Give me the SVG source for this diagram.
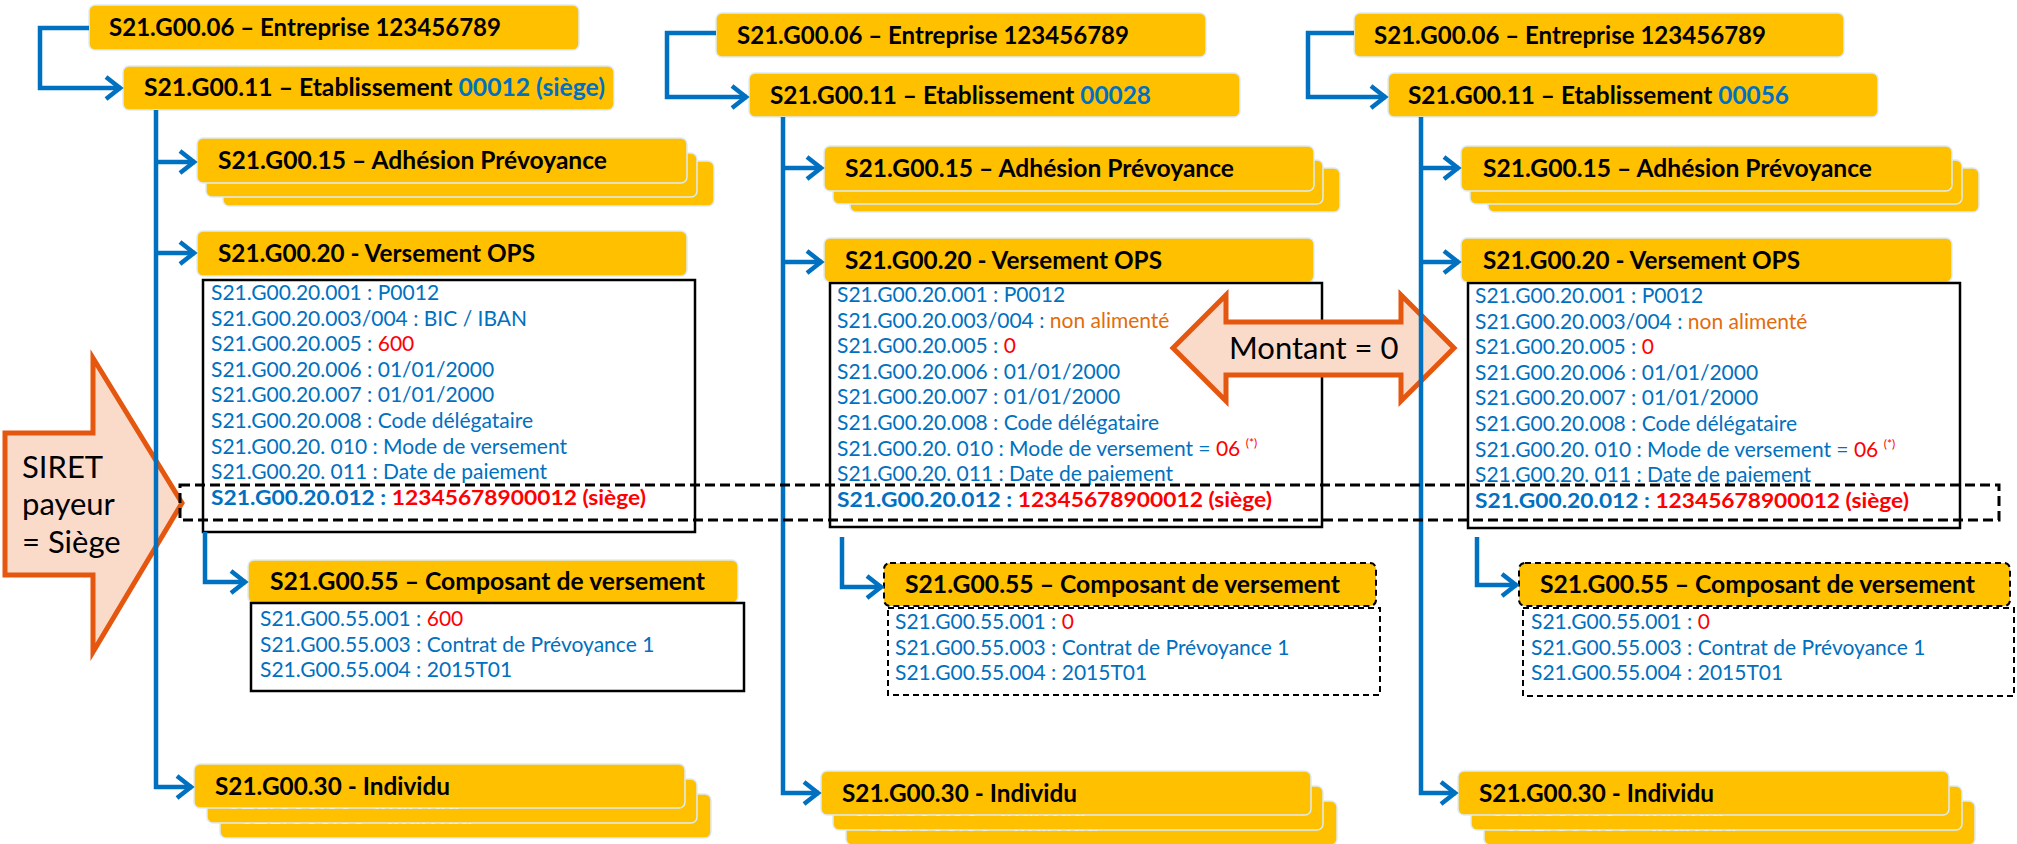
<svg xmlns="http://www.w3.org/2000/svg" width="2017" height="844" viewBox="0 0 2017 844">
<defs>
<style>
.box{fill:#FFC000;stroke:#DDEBF7;stroke-width:1.5}
.boxd{fill:#FFC000;stroke:#000;stroke-width:2;stroke-dasharray:6 4}
.det{fill:#fff;stroke:#000;stroke-width:2.5}
.detd{fill:#fff;stroke:#000;stroke-width:2;stroke-dasharray:6 4}
.hdr{font-family:Lato,'Liberation Sans',sans-serif;font-weight:700;font-size:24px;fill:#000}
.ghost{font-family:Lato,'Liberation Sans',sans-serif;font-weight:700;font-size:24px;fill:#fff}
.t{font-family:Lato,'Liberation Sans',sans-serif;font-size:21px;fill:#0070C0}
.b{font-weight:700}
.blue{fill:#0070C0}
.red{fill:#FF0000}
.org{fill:#E36C0A}
.sup{font-size:12px}
.ln{fill:none;stroke:#0070C0;stroke-width:4.5;stroke-linejoin:miter}
.arr{marker-end:url(#chev)}
.call{fill:#FADBCA;stroke:#E5560F;stroke-width:5;stroke-linejoin:miter}
.ct{font-family:Lato,'Liberation Sans',sans-serif;font-size:31px;fill:#000}
.band{fill:none;stroke:#000;stroke-width:3;stroke-dasharray:10 5}
</style>
<marker id="chev" viewBox="-20 -14 24 28" refX="0" refY="0" markerWidth="24" markerHeight="28" markerUnits="userSpaceOnUse" orient="auto">
<path d="M-15,-11 L-1,0 L-15,11" fill="none" stroke="#0070C0" stroke-width="4.5"/>
</marker>
</defs>
<rect width="2017" height="844" fill="#fff"/>

<!-- Column 1 -->
<g id="c1-entreprise"><rect class="box" x="89" y="5" width="490" height="45" rx="6"/><text class="hdr" x="109" y="36" textLength="392" lengthAdjust="spacingAndGlyphs">S21.G00.06 – Entreprise 123456789</text></g>
<g id="c1-etablissement"><rect class="box" x="123" y="66" width="491" height="44" rx="6"/><text class="hdr" x="144" y="96" textLength="461" lengthAdjust="spacingAndGlyphs">S21.G00.11 – Etablissement <tspan class="blue">00012 (siège)</tspan></text></g>
<g id="c1-adhesion"><rect class="box" x="223" y="161" width="491" height="45" rx="6"/><rect class="box" x="206" y="153" width="491" height="44" rx="6"/><rect class="box" x="197" y="138" width="490" height="45" rx="6"/><text class="hdr" x="218" y="169" textLength="389" lengthAdjust="spacingAndGlyphs">S21.G00.15 – Adhésion Prévoyance</text></g>
<g id="c1-versement"><rect class="box" x="197" y="231" width="490" height="45" rx="6"/><text class="hdr" x="218" y="262" textLength="317" lengthAdjust="spacingAndGlyphs">S21.G00.20 - Versement OPS</text></g>
<g id="c1-versement-detail"><rect class="det" x="203" y="280" width="492" height="252"/>
<text class="t" x="211" y="300">S21.G00.20.001 : P0012</text>
<text class="t" x="211" y="325.6">S21.G00.20.003/004 : BIC / IBAN</text>
<text class="t" x="211" y="351.2">S21.G00.20.005 : <tspan class="red">600</tspan></text>
<text class="t" x="211" y="376.8">S21.G00.20.006 : 01/01/2000</text>
<text class="t" x="211" y="402.4">S21.G00.20.007 : 01/01/2000</text>
<text class="t" x="211" y="428">S21.G00.20.008 : Code délégataire</text>
<text class="t" x="211" y="453.6">S21.G00.20. 010 : Mode de versement</text>
<text class="t" x="211" y="479.2">S21.G00.20. 011 : Date de paiement</text>
<text class="t b" x="211" y="504.8" textLength="435" lengthAdjust="spacingAndGlyphs">S21.G00.20.012 : <tspan class="red">12345678900012 (siège)</tspan></text>
</g>
<g id="c1-composant"><rect class="box" x="248" y="560" width="490" height="43" rx="6"/><text class="hdr" x="270" y="590" textLength="435" lengthAdjust="spacingAndGlyphs">S21.G00.55 – Composant de versement</text></g>
<g id="c1-composant-detail"><rect class="det" x="251" y="603" width="493" height="88"/>
<text class="t" x="260" y="626">S21.G00.55.001 : <tspan class="red">600</tspan></text>
<text class="t" x="260" y="651.6">S21.G00.55.003 : Contrat de Prévoyance 1</text>
<text class="t" x="260" y="677.2">S21.G00.55.004 : 2015T01</text>
</g>
<g id="c1-individu"><rect class="box" x="220" y="794" width="491" height="44" rx="6"/><text class="ghost" x="241" y="824">S21.G00.30 - Individu</text><rect class="box" x="207" y="779" width="490" height="44" rx="6"/><text class="ghost" x="228" y="809">S21.G00.30 - Individu</text><rect class="box" x="194" y="764" width="491" height="44" rx="6"/><text class="hdr" x="215" y="795" textLength="235" lengthAdjust="spacingAndGlyphs">S21.G00.30 - Individu</text></g>

<!-- Column 2 -->
<g id="c2-entreprise"><rect class="box" x="716" y="13" width="490" height="44" rx="6"/><text class="hdr" x="737" y="44" textLength="392" lengthAdjust="spacingAndGlyphs">S21.G00.06 – Entreprise 123456789</text></g>
<g id="c2-etablissement"><rect class="box" x="749" y="73" width="491" height="44" rx="6"/><text class="hdr" x="770" y="104" textLength="381" lengthAdjust="spacingAndGlyphs">S21.G00.11 – Etablissement <tspan class="blue">00028</tspan></text></g>
<g id="c2-adhesion"><rect class="box" x="850" y="168" width="490" height="44" rx="6"/><rect class="box" x="833" y="160" width="490" height="44" rx="6"/><rect class="box" x="824" y="146" width="490" height="45" rx="6"/><text class="hdr" x="845" y="177" textLength="389" lengthAdjust="spacingAndGlyphs">S21.G00.15 – Adhésion Prévoyance</text></g>
<g id="c2-versement"><rect class="box" x="824" y="238" width="490" height="44" rx="6"/><text class="hdr" x="845" y="269" textLength="317" lengthAdjust="spacingAndGlyphs">S21.G00.20 - Versement OPS</text></g>
<g id="c2-versement-detail"><rect class="det" x="830" y="283" width="492" height="244"/>
<text class="t" x="837" y="302">S21.G00.20.001 : P0012</text>
<text class="t" x="837" y="327.6">S21.G00.20.003/004 : <tspan class="org">non alimenté</tspan></text>
<text class="t" x="837" y="353.2">S21.G00.20.005 : <tspan class="red">0</tspan></text>
<text class="t" x="837" y="378.8">S21.G00.20.006 : 01/01/2000</text>
<text class="t" x="837" y="404.4">S21.G00.20.007 : 01/01/2000</text>
<text class="t" x="837" y="430">S21.G00.20.008 : Code délégataire</text>
<text class="t" x="837" y="455.6">S21.G00.20. 010 : Mode de versement = <tspan class="red">06 </tspan><tspan class="red sup" dy="-9">(*)</tspan></text>
<text class="t" x="837" y="481.2">S21.G00.20. 011 : Date de paiement</text>
<text class="t b" x="837" y="506.8" textLength="435" lengthAdjust="spacingAndGlyphs">S21.G00.20.012 : <tspan class="red">12345678900012 (siège)</tspan></text>
</g>
<g id="c2-composant"><rect class="boxd" x="884" y="563" width="492" height="43" rx="6"/><text class="hdr" x="905" y="593" textLength="435" lengthAdjust="spacingAndGlyphs">S21.G00.55 – Composant de versement</text></g>
<g id="c2-composant-detail"><rect class="detd" x="888" y="608" width="492" height="87"/>
<text class="t" x="895" y="629">S21.G00.55.001 : <tspan class="red">0</tspan></text>
<text class="t" x="895" y="654.6">S21.G00.55.003 : Contrat de Prévoyance 1</text>
<text class="t" x="895" y="680.2">S21.G00.55.004 : 2015T01</text>
</g>
<g id="c2-individu"><rect class="box" x="846" y="801" width="491" height="44" rx="6"/><text class="ghost" x="867" y="831">S21.G00.30 - Individu</text><rect class="box" x="833" y="786" width="490" height="44" rx="6"/><text class="ghost" x="854" y="816">S21.G00.30 - Individu</text><rect class="box" x="821" y="771" width="490" height="44" rx="6"/><text class="hdr" x="842" y="802" textLength="235" lengthAdjust="spacingAndGlyphs">S21.G00.30 - Individu</text></g>

<!-- Column 3 -->
<g id="c3-entreprise"><rect class="box" x="1354" y="13" width="490" height="44" rx="6"/><text class="hdr" x="1374" y="44" textLength="392" lengthAdjust="spacingAndGlyphs">S21.G00.06 – Entreprise 123456789</text></g>
<g id="c3-etablissement"><rect class="box" x="1388" y="73" width="490" height="44" rx="6"/><text class="hdr" x="1408" y="104" textLength="381" lengthAdjust="spacingAndGlyphs">S21.G00.11 – Etablissement <tspan class="blue">00056</tspan></text></g>
<g id="c3-adhesion"><rect class="box" x="1488" y="168" width="491" height="44" rx="6"/><rect class="box" x="1470" y="160" width="492" height="44" rx="6"/><rect class="box" x="1461" y="146" width="491" height="45" rx="6"/><text class="hdr" x="1483" y="177" textLength="389" lengthAdjust="spacingAndGlyphs">S21.G00.15 – Adhésion Prévoyance</text></g>
<g id="c3-versement"><rect class="box" x="1461" y="238" width="491" height="44" rx="6"/><text class="hdr" x="1483" y="269" textLength="317" lengthAdjust="spacingAndGlyphs">S21.G00.20 - Versement OPS</text></g>
<g id="c3-versement-detail"><rect class="det" x="1468" y="283" width="492" height="245"/>
<text class="t" x="1475" y="303">S21.G00.20.001 : P0012</text>
<text class="t" x="1475" y="328.6">S21.G00.20.003/004 : <tspan class="org">non alimenté</tspan></text>
<text class="t" x="1475" y="354.2">S21.G00.20.005 : <tspan class="red">0</tspan></text>
<text class="t" x="1475" y="379.8">S21.G00.20.006 : 01/01/2000</text>
<text class="t" x="1475" y="405.4">S21.G00.20.007 : 01/01/2000</text>
<text class="t" x="1475" y="431">S21.G00.20.008 : Code délégataire</text>
<text class="t" x="1475" y="456.6">S21.G00.20. 010 : Mode de versement = <tspan class="red">06 </tspan><tspan class="red sup" dy="-9">(*)</tspan></text>
<text class="t" x="1475" y="482.2">S21.G00.20. 011 : Date de paiement</text>
<text class="t b" x="1475" y="507.8" textLength="434" lengthAdjust="spacingAndGlyphs">S21.G00.20.012 : <tspan class="red">12345678900012 (siège)</tspan></text>
</g>
<g id="c3-composant"><rect class="boxd" x="1519" y="563" width="491" height="43" rx="6"/><text class="hdr" x="1540" y="593" textLength="435" lengthAdjust="spacingAndGlyphs">S21.G00.55 – Composant de versement</text></g>
<g id="c3-composant-detail"><rect class="detd" x="1523" y="608" width="491" height="88"/>
<text class="t" x="1531" y="629">S21.G00.55.001 : <tspan class="red">0</tspan></text>
<text class="t" x="1531" y="654.6">S21.G00.55.003 : Contrat de Prévoyance 1</text>
<text class="t" x="1531" y="680.2">S21.G00.55.004 : 2015T01</text>
</g>
<g id="c3-individu"><rect class="box" x="1484" y="801" width="491" height="44" rx="6"/><text class="ghost" x="1505" y="831">S21.G00.30 - Individu</text><rect class="box" x="1471" y="786" width="491" height="44" rx="6"/><text class="ghost" x="1492" y="816">S21.G00.30 - Individu</text><rect class="box" x="1458" y="771" width="491" height="44" rx="6"/><text class="hdr" x="1479" y="802" textLength="235" lengthAdjust="spacingAndGlyphs">S21.G00.30 - Individu</text></g>

<!-- Callouts -->
<g id="callout-siret"><polygon class="call" points="5,433 93,433 93,358 182,503 93,652 93,575 5,575"/>
<text class="ct" x="22" y="478">SIRET</text><text class="ct" x="22" y="515">payeur</text><text class="ct" x="22" y="553">= Siège</text></g>
<g id="callout-montant"><polygon class="call" points="1173,348 1226,295 1226,322 1401,322 1401,295 1454,348 1401,401 1401,375 1226,375 1226,401"/>
<text class="ct" x="1229" y="359">Montant = 0</text></g>

<!-- Connectors -->
<g id="connectors">
<path class="ln arr" d="M89,28 H40 V88 H121"/>
<path class="ln arr" d="M156,110 V787 H192"/>
<path class="ln arr" d="M156,162 H195"/>
<path class="ln arr" d="M156,253 H195"/>
<path class="ln arr" d="M205,532 V582 H246"/>
<path class="ln arr" d="M716,33 H667 V97 H747"/>
<path class="ln arr" d="M783,117 V793 H819"/>
<path class="ln arr" d="M783,168 H822"/>
<path class="ln arr" d="M783,262 H822"/>
<path class="ln arr" d="M842,537 V587 H882"/>
<path class="ln arr" d="M1354,33 H1308 V97 H1386"/>
<path class="ln arr" d="M1421,117 V793 H1456"/>
<path class="ln arr" d="M1421,168 H1459"/>
<path class="ln arr" d="M1421,262 H1459"/>
<path class="ln arr" d="M1477,537 V585 H1517"/>
</g>
<g id="siret-band"><rect class="band" x="180" y="485" width="1819" height="35"/></g>
</svg>
